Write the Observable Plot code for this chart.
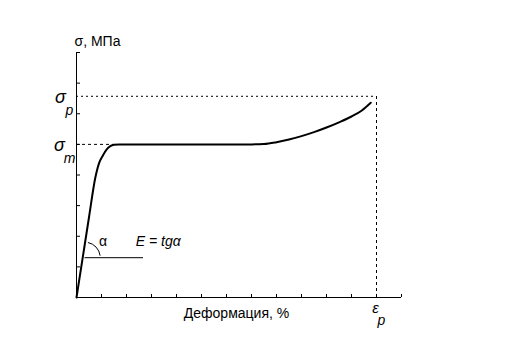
<!DOCTYPE html>
<html><head><meta charset="utf-8">
<script src="https://cdn.jsdelivr.net/npm/d3@7"></script>
<script src="https://cdn.jsdelivr.net/npm/@observablehq/plot@0.6"></script>
<style>
body{margin:0;background:#fff;}
#chart{width:512px;height:356px;}
svg{font-family:"Liberation Sans",Arial,sans-serif;}
g[aria-label="xlabel"] text{letter-spacing:0.7px;}
</style>
</head><body><div id="chart"></div>
<script>
// Stress–strain curve
const strain = [0, 0.25, 0.5, 0.75, 0.9, 1.05, 1.2, 1.35, 1.5, 1.7, 2.0, 3, 4, 5, 6, 7, 7.5, 8.0, 8.5, 9.0, 9.5, 10.0, 10.5, 11.0, 11.4, 11.77];
const stress = [0, 1.31, 2.62, 3.9, 4.38, 4.63, 4.83, 4.94, 4.99, 5.0, 5.0, 5.0, 5.0, 5.0, 5.0, 5.0, 5.01, 5.07, 5.16, 5.27, 5.40, 5.55, 5.72, 5.91, 6.10, 6.36];
const xTicks = [0,1,2,3,4,5,6,7,8,9,10,11,12,13];
const yTicks = [0,1,2,3,4,5,6,7,8];
const sigmaP = 6.57;   // σp
const sigmaM = 5.0;    // σm
const epsP = 12;       // εp
const sigmaMEnd = 1.5; // where the plateau starts
const tangentY = 1.3;  // level of horizontal reference for angle α
const tangentX = [0.34, 2.68];
const yLabel = "σ, МПа";
const xLabel = "Деформация, %";
const eLabel = "E = tgα";

const curve = strain.map((x, i) => ({x, y: stress[i]}));
const F = '"Liberation Sans", Arial, sans-serif';

const arcMark = (index, {x, y}) => {
  const cx = x(tangentY / (stress[3] / strain[3])) + 2;
  const cy = y(tangentY);
  const dx = x(strain[3]) - x(0), dy = y(stress[3]) - y(0);
  const a = Math.atan2(dy, dx);
  const p = d3.path();
  const r = 15.5;
  p.moveTo(cx + r * Math.cos(a + 0.05), cy + r * Math.sin(a + 0.05));
  p.arc(cx, cy, r, a + 0.05, -0.13);
  return d3.create("svg:path").attr("d", p.toString()).attr("fill", "none")
    .attr("stroke", "black").attr("stroke-width", 1)
    .attr("transform", "translate(0.5,0.5)").node();
};

const chart = Plot.plot({
  width: 512, height: 356,
  marginLeft: 76, marginRight: 111, marginTop: 52, marginBottom: 59,
  x: {domain: [0, 13], axis: null},
  y: {domain: [0, 8], axis: null},
  style: {fontFamily: F, background: "#fff"},
  marks: [
    // axes
    Plot.ruleY([0], {x1: 0, x2: 13, stroke: "black"}),
    Plot.ruleX([0], {y1: 0, y2: 8, stroke: "black"}),
    Plot.ruleX(xTicks, {x: d => d, y1: 0, y2: 0.1, stroke: "black"}),
    Plot.ruleY(yTicks, {y: d => d, x1: 0, x2: 0.16, stroke: "black"}),
    // dashed reference lines
    Plot.ruleY([sigmaP], {x1: 0, x2: epsP, stroke: "black", strokeDasharray: "2,3"}),
    Plot.ruleX([epsP], {y1: 0, y2: sigmaP, stroke: "black", strokeDasharray: "3,3"}),
    Plot.ruleY([sigmaM], {x1: 0, x2: sigmaMEnd, stroke: "black", strokeDasharray: "3,3"}),
    // tangent horizontal
    Plot.ruleY([tangentY], {x1: tangentX[0], x2: tangentX[1], stroke: "black"}),
    arcMark,
    // curve
    Plot.line(curve, {x: "x", y: "y", curve: "monotone-x", stroke: "black", strokeWidth: 2}),
    // labels
    Plot.text([yLabel], {x: 0, y: 8, text: d => d, dx: -2, dy: -11, textAnchor: "start", fontSize: 14, fill: "black"}),
    Plot.text([xLabel], {x: 6.4, y: 0, text: d => d, dy: 16, fontSize: 14, fill: "black", ariaLabel: "xlabel"}),
    Plot.text([sigmaP], {x: 0, y: d => d, text: () => "σ", dx: -16, dy: 1, fontSize: 18, fontStyle: "italic", fill: "black"}),
    Plot.text([sigmaP], {x: 0, y: d => d, text: () => "p", dx: -7, dy: 14, fontSize: 14, fontStyle: "italic", fill: "black"}),
    Plot.text([sigmaM], {x: 0, y: d => d, text: () => "σ", dx: -17, dy: 1, fontSize: 18, fontStyle: "italic", fill: "black"}),
    Plot.text([sigmaM], {x: 0, y: d => d, text: () => "m", dx: -7, dy: 14, fontSize: 14, fontStyle: "italic", fill: "black"}),
    Plot.text([epsP], {x: d => d, y: 0, text: () => "ε", dx: -1, dy: 11, fontSize: 15, fontStyle: "italic", fill: "black"}),
    Plot.text([epsP], {x: d => d, y: 0, text: () => "p", dx: 5, dy: 23, fontSize: 14, fontStyle: "italic", fill: "black"}),
    Plot.text(["α"], {x: tangentX[0], y: tangentY, text: d => d, dx: 18, dy: -16, fontSize: 14, fill: "black"}),
    Plot.text([eLabel], {x: 3.27, y: tangentY, text: d => d, dy: -16, fontSize: 14, fontStyle: "italic", fill: "black"})
  ]
});
document.getElementById("chart").appendChild(chart);
</script>
</body></html>
